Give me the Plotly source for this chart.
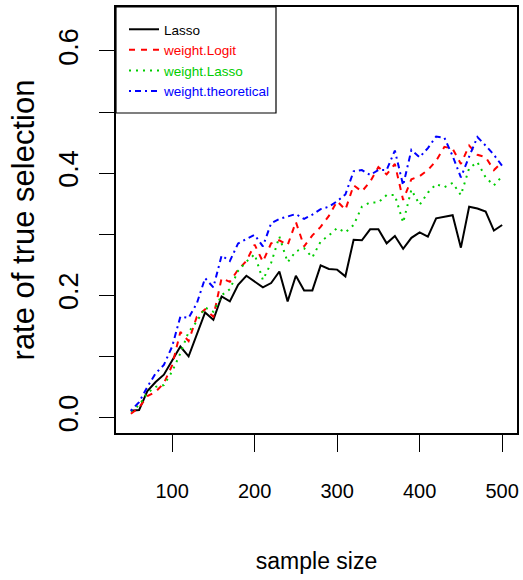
import plotly.graph_objects as go

sample_size = [50, 60, 70, 80, 90, 100, 110, 120, 130, 140, 150, 160, 170, 180, 190,
               200, 210, 220, 230, 240, 250, 260, 270, 280, 290, 300, 310, 320, 330,
               340, 350, 360, 370, 380, 390, 400, 410, 420, 430, 440, 450, 460, 470,
               480, 490, 500]

lasso = [0.011, 0.012, 0.043, 0.058, 0.070, 0.094, 0.116, 0.100, 0.135, 0.172,
         0.160, 0.198, 0.190, 0.217, 0.232, 0.223, 0.213, 0.220, 0.239, 0.190,
         0.232, 0.208, 0.208, 0.249, 0.243, 0.242, 0.231, 0.291, 0.290, 0.308,
         0.308, 0.285, 0.297, 0.276, 0.294, 0.303, 0.296, 0.326, 0.328, 0.331,
         0.278, 0.345, 0.342, 0.337, 0.306, 0.315]

weight_logit = [0.006, 0.016, 0.035, 0.042, 0.056, 0.085, 0.140, 0.125, 0.165, 0.177,
                0.165, 0.228, 0.222, 0.242, 0.256, 0.283, 0.255, 0.285, 0.290, 0.282,
                0.320, 0.280, 0.298, 0.312, 0.330, 0.354, 0.340, 0.380, 0.370, 0.386,
                0.410, 0.398, 0.415, 0.356, 0.390, 0.395, 0.405, 0.420, 0.443, 0.440,
                0.415, 0.445, 0.430, 0.426, 0.405, 0.418]

weight_lasso = [0.010, 0.020, 0.040, 0.050, 0.053, 0.075, 0.105, 0.140, 0.157, 0.180,
                0.173, 0.200, 0.210, 0.240, 0.255, 0.267, 0.225, 0.253, 0.296, 0.254,
                0.272, 0.277, 0.262, 0.288, 0.298, 0.310, 0.303, 0.315, 0.345, 0.352,
                0.352, 0.364, 0.364, 0.319, 0.373, 0.348, 0.368, 0.382, 0.377, 0.384,
                0.364, 0.408, 0.418, 0.393, 0.380, 0.395]

weight_theoretical = [0.011, 0.025, 0.050, 0.072, 0.086, 0.116, 0.165, 0.163, 0.187, 0.228,
                      0.213, 0.265, 0.256, 0.285, 0.292, 0.299, 0.280, 0.318, 0.325, 0.329,
                      0.333, 0.325, 0.332, 0.341, 0.345, 0.354, 0.365, 0.403, 0.405, 0.397,
                      0.405, 0.405, 0.437, 0.380, 0.438, 0.426, 0.441, 0.460, 0.458, 0.428,
                      0.393, 0.427, 0.459, 0.445, 0.430, 0.412]

x_ticks = [100, 200, 300, 400, 500]
y_ticks = [0.0, 0.1, 0.2, 0.3, 0.4, 0.5, 0.6]
y_ticktext = ["0.0", "", "0.2", "", "0.4", "", "0.6"]

series = [
    ("Lasso", lasso, "#000000", "solid"),
    ("weight.Logit", weight_logit, "#FF0000", "6px,6px"),
    ("weight.Lasso", weight_lasso, "#00CD00", "2px,5px"),
    ("weight.theoretical", weight_theoretical, "#0000FF", "2px,4px,6px,4px"),
]

FONT = "Liberation Sans, Arial, Helvetica, sans-serif"

W, H = 523, 580
ML, MR, MT, MB = 116, 6, 7, 147
PW, PH = W - ML - MR, H - MT - MB

fig = go.Figure()
for name, vals, color, dash in series:
    fig.add_trace(go.Scatter(
        x=sample_size, y=vals, mode="lines",
        name=f"<span style='color:{color}'>{name}</span>",
        line=dict(color=color, width=2, dash=dash),
    ))

# legend box (white, black border)
fig.add_shape(
    type="rect", xref="x domain", yref="y domain",
    x0=0, x1=160 / PW, y0=1 - 106 / PH, y1=1,
    fillcolor="white", line=dict(color="black", width=1.2), layer="above",
)

fig.update_layout(
    width=W, height=H,
    margin=dict(l=ML, r=MR, t=MT, b=MB, autoexpand=False),
    paper_bgcolor="white", plot_bgcolor="white",
    font=dict(family=FONT, color="black"),
    showlegend=True,
    legend=dict(
        x=8 / PW, y=1 - 7 / PH, xanchor="left", yanchor="top",
        bgcolor="rgba(0,0,0,0)", borderwidth=0,
        font=dict(size=13.5, family=FONT),
        tracegroupgap=0,
    ),
)

fig.update_xaxes(
    range=[32, 518], tickvals=x_ticks, ticktext=[str(v) for v in x_ticks],
    ticks="outside", ticklen=17, tickwidth=1.2, tickcolor="black",
    showline=True, linecolor="black", linewidth=1.5, mirror=True,
    showgrid=False, zeroline=False, automargin=False,
    tickfont=dict(size=20, family=FONT),
    ticklabelstandoff=22,
    title=dict(text="sample size", font=dict(size=23, family=FONT), standoff=52),
)
fig.update_yaxes(
    range=[-0.0255, 0.672], tickvals=y_ticks, ticktext=y_ticktext,
    ticks="outside", ticklen=15, tickwidth=1.2, tickcolor="black",
    showline=True, linecolor="black", linewidth=1.5, mirror=True,
    showgrid=False, zeroline=False, tickangle=-90, automargin=False,
    tickfont=dict(size=27, family=FONT),
    ticklabelstandoff=10,
    title=dict(text="rate of true selection", font=dict(size=31, family=FONT), standoff=11),
)

fig.write_html(
    "out.html",
    config={"displayModeBar": False},
    post_script="document.body.style.margin='0';document.body.style.overflow='hidden';",
)
